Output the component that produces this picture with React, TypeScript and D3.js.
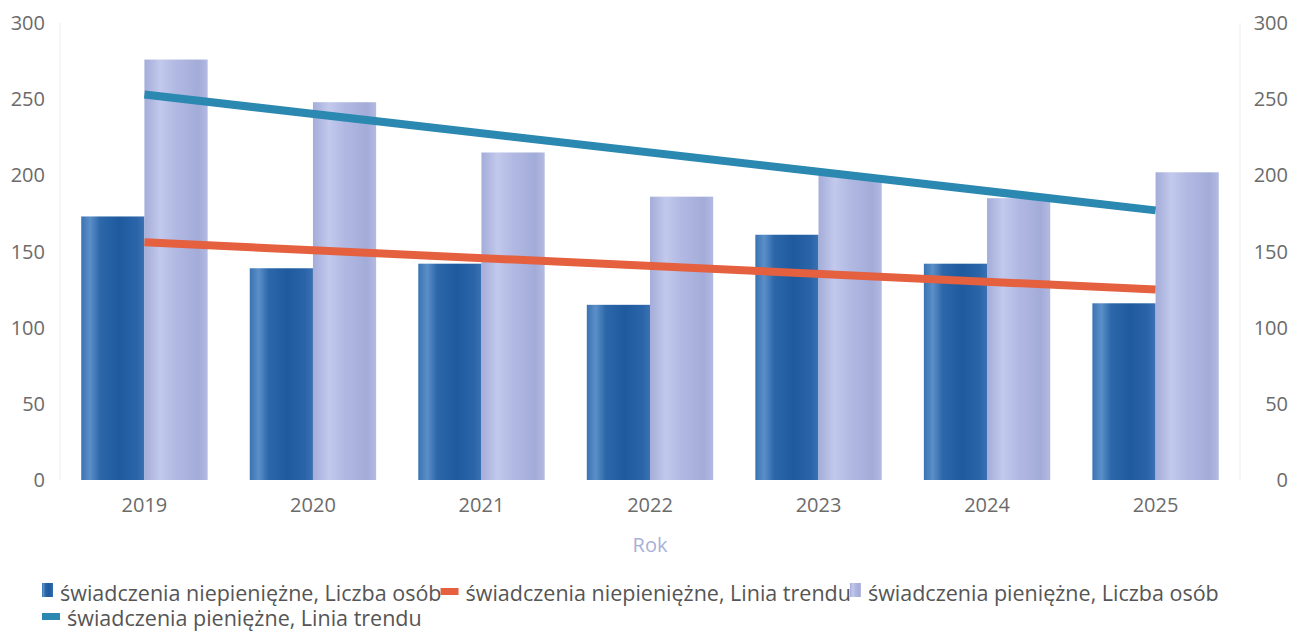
import React, { useEffect, useRef } from "react";
import * as d3 from "d3";

const years = ["2019", "2020", "2021", "2022", "2023", "2024", "2025"];
const niepieniezne = [173, 139, 142, 115, 161, 142, 116];
const pieniezne = [276, 248, 215, 186, 200, 185, 202];
// trend line values at first and last year
const trendNiepieniezne = [156, 125];
const trendPieniezne = [253, 177];
const yTicks = [0, 50, 100, 150, 200, 250, 300];
const legendLabels = [
  "świadczenia niepieniężne, Liczba osób",
  "świadczenia niepieniężne, Linia trendu",
  "świadczenia pieniężne, Liczba osób",
  "świadczenia pieniężne, Linia trendu",
];

const W = 1300;
const H = 635;
const FONT = "'Open Sans', 'Noto Sans', sans-serif";

export default function App() {
  const ref = useRef<SVGSVGElement | null>(null);

  useEffect(() => {
    document.body.style.margin = "0";
    const svg = d3.select(ref.current);
    svg.selectAll("*").remove();

    const left = 60, right = 1240, top = 23, bottom = 480;
    const x = d3.scaleBand<string>().domain(years).range([left, right]).paddingInner(0.25).paddingOuter(0.126);
    const x1 = d3.scaleBand<string>().domain(["a", "b"]).range([0, x.bandwidth()]).padding(0);
    const y = d3.scaleLinear().domain([0, 300]).range([bottom, top]);

    const defs = svg.append("defs");
    const gDark = defs.append("linearGradient").attr("id", "gDark").attr("x1", "0").attr("x2", "1").attr("y1", "0").attr("y2", "0");
    [
      [0, "#3a73b3"], [0.14, "#5b8fc8"], [0.3, "#2c67aa"], [0.6, "#1f5a9e"], [0.88, "#2b65a9"], [1, "#3a72b2"],
    ].forEach(([o, c]) => gDark.append("stop").attr("offset", o as number).attr("stop-color", c as string));
    const gLight = defs.append("linearGradient").attr("id", "gLight").attr("x1", "0").attr("x2", "1").attr("y1", "0").attr("y2", "0");
    [
      [0, "#a4acd9"], [0.25, "#c2c9ec"], [0.5, "#b1b9e3"], [0.85, "#a3abd8"], [1, "#b3bae2"],
    ].forEach(([o, c]) => gLight.append("stop").attr("offset", o as number).attr("stop-color", c as string));

    // faint vertical frame lines
    svg.append("line").attr("x1", left).attr("x2", left).attr("y1", top).attr("y2", bottom).attr("stroke", "#eeeeee");
    svg.append("line").attr("x1", right).attr("x2", right).attr("y1", top).attr("y2", bottom).attr("stroke", "#eeeeee");

    // y axis labels
    const yl = svg.append("g").attr("font-family", FONT).attr("font-size", 20).attr("fill", "#6b6b6b");
    yl.selectAll("text.l").data(yTicks).join("text").attr("class", "l")
      .attr("x", 45).attr("y", (d) => y(d)).attr("dy", "0.35em").attr("text-anchor", "end").text((d) => d);
    yl.selectAll("text.r").data(yTicks).join("text").attr("class", "r")
      .attr("x", 1288).attr("y", (d) => y(d)).attr("dy", "0.35em").attr("text-anchor", "end").text((d) => d);

    // bars
    svg.append("g").selectAll("rect").data(years).join("rect")
      .attr("x", (d) => x(d)! + x1("a")!).attr("width", x1.bandwidth())
      .attr("y", (d, i) => y(niepieniezne[i])).attr("height", (d, i) => bottom - y(niepieniezne[i]))
      .attr("fill", "url(#gDark)");
    svg.append("g").selectAll("rect").data(years).join("rect")
      .attr("x", (d) => x(d)! + x1("b")!).attr("width", x1.bandwidth())
      .attr("y", (d, i) => y(pieniezne[i])).attr("height", (d, i) => bottom - y(pieniezne[i]))
      .attr("fill", "url(#gLight)");

    // trend lines
    const ends = [years[0], years[years.length - 1]];
    const line = d3.line<number>().x((d, i) => x(ends[i])! + x.bandwidth() / 2).y((d) => y(d));
    svg.append("path").datum(trendPieniezne).attr("d", line).attr("fill", "none").attr("stroke", "#2b88b0").attr("stroke-width", 8);
    svg.append("path").datum(trendNiepieniezne).attr("d", line).attr("fill", "none").attr("stroke", "#e4603f").attr("stroke-width", 8);

    // x labels
    svg.append("g").selectAll("text").data(years).join("text")
      .attr("x", (d) => x(d)! + x.bandwidth() / 2).attr("y", 512)
      .attr("text-anchor", "middle").attr("font-family", FONT).attr("font-size", 20).attr("fill", "#6b6b6b").text((d) => d);
    svg.append("text").attr("x", (left + right) / 2).attr("y", 552).attr("text-anchor", "middle")
      .attr("font-family", FONT).attr("font-size", 20).attr("fill", "#a9b0d8").text("Rok");

    // legend
    const swatches = [
      { kind: "bar", fill: "url(#gDark)" },
      { kind: "line", fill: "#e4603f" },
      { kind: "bar", fill: "url(#gLight)" },
      { kind: "line", fill: "#2b88b0" },
    ];
    const lg = svg.append("g").attr("font-family", FONT).attr("font-size", 21.5).attr("fill", "#555");
    let cx = 42;
    let rowY = 601;
    legendLabels.forEach((label, i) => {
      const s = swatches[i];
      const isBar = s.kind === "bar";
      const sw = isBar ? 11 : 18;
      const textOffset = isBar ? 18 : 25;
      const t = lg.append("text").attr("x", 0).attr("y", -1000).text(label);
      const tw = (t.node() as SVGTextElement).getComputedTextLength();
      t.remove();
      if (cx + textOffset + tw > 1265) {
        cx = 42;
        rowY += 25;
      }
      if (isBar) {
        lg.append("rect").attr("x", cx).attr("y", rowY - 18).attr("width", sw).attr("height", 14).attr("fill", s.fill);
      } else {
        lg.append("rect").attr("x", cx).attr("y", rowY - 13).attr("width", sw).attr("height", 7).attr("fill", s.fill);
      }
      const tx = cx + textOffset;
      lg.append("text").attr("x", tx).attr("y", rowY).text(label);
      cx = tx + tw - 1;
    });
  }, []);

  return <svg ref={ref} width={W} height={H} style={{ display: "block", background: "#fff" }} />;
}
